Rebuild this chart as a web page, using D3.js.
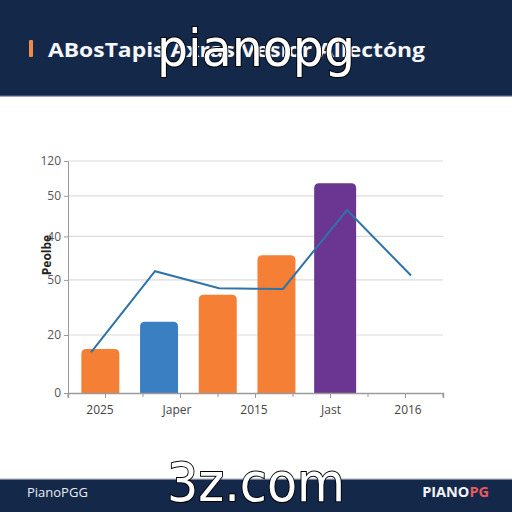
<!DOCTYPE html>
<html>
<head>
<meta charset="utf-8">
<script src="https://cdn.jsdelivr.net/npm/d3@7"></script>
<style>
  html, body { margin: 0; padding: 0; background: #fff; }
  svg { display: block; }
</style>
</head>
<body>
<svg id="chart" width="512" height="512"></svg>
<script>
// ---- data ----
const title = "ABosTapis Axras Vesior Allectóng";
const yAxisTitle = "Peolbe";
const xLabels = ["2025", "Japer", "2015", "Jast", "2016"];
const yTickValues = [0, 20, 39, 54, 68, 80];
const yTickLabels = ["0", "20", "50", "40", "50", "120"];
const barNames = ["b1", "b2", "b3", "b4", "b5"];
const barValues = [15.2, 24.6, 33.9, 47.5, 72.3];
const barGroups = ["orange", "blue", "orange", "orange", "purple"];
const lineValues = [14.0, 42.0, 36.1, 35.9, 63.1, 40.5];
const footerLeft = "PianoPGG";
const footerRightA = "PIANO";
const footerRightB = "PG";
const watermarkTop = "pianopg";
const watermarkBottom = "3z.com";

// ---- layout ----
const svg = d3.select("#chart");
const W = 512, H = 512;
const plot = { left: 68, right: 443, top: 161, bottom: 393 };

// header / footer bands
svg.append("rect").attr("x", 0).attr("y", 0).attr("width", W).attr("height", 95).attr("fill", "#14284a");
svg.append("rect").attr("x", 0).attr("y", 95).attr("width", W).attr("height", 1.5).attr("fill", "#3c5070");
svg.append("rect").attr("x", 0).attr("y", 479).attr("width", W).attr("height", 33).attr("fill", "#14284a");
svg.append("rect").attr("x", 0).attr("y", 478).attr("width", W).attr("height", 1.5).attr("fill", "#cfd6de");

// title
svg.append("rect").attr("x", 29).attr("y", 40).attr("width", 4).attr("height", 17).attr("rx", 1).attr("fill", "#f08a4b");
svg.append("text").attr("x", 48).attr("y", 57)
  .attr("font-family", "Open Sans, sans-serif").attr("font-weight", 700).attr("font-size", 19)
  .attr("fill", "#f4f6fa").attr("textLength", 377).attr("lengthAdjust", "spacingAndGlyphs")
  .text(title);

// scales
const y = d3.scaleLinear().domain([0, 80]).range([plot.bottom, plot.top]);
const xAxisScale = d3.scaleBand().domain(xLabels).range([plot.left, plot.right]);
const xLabelPos = d3.scalePoint().domain(xLabels).range([100, 408]);
const xBar = d3.scaleBand().domain(barNames).range([71, 364.5]).paddingInner(0.353).paddingOuter(0.1765);
const xLine = d3.scalePoint().domain(d3.range(lineValues.length)).range([91, 411]);
const color = d3.scaleOrdinal().domain(["orange", "blue", "purple"]).range(["#f57f35", "#3a7fc2", "#6b3592"]);

// gridlines
svg.append("g").selectAll("line").data(yTickValues.slice(1)).join("line")
  .attr("x1", plot.left).attr("x2", plot.right)
  .attr("y1", d => y(d)).attr("y2", d => y(d))
  .attr("stroke", "#dcdcdc").attr("stroke-width", 1.2);

// y axis
const yAxis = d3.axisLeft(y).tickValues(yTickValues).tickSize(4).tickPadding(3)
  .tickFormat((d, i) => yTickLabels[i]);
const gy = svg.append("g").attr("transform", `translate(${plot.left},0)`).call(yAxis);
gy.select(".domain").attr("stroke", "#9a9a9a");
gy.selectAll(".tick line").attr("stroke", "#9a9a9a");
gy.selectAll(".tick text").attr("font-family", "Open Sans, sans-serif").attr("font-size", 12).attr("fill", "#555");

// y axis title
svg.append("text").attr("transform", "translate(51,255) rotate(-90)")
  .attr("text-anchor", "middle").attr("font-family", "Open Sans, sans-serif")
  .attr("font-weight", 700).attr("font-size", 12).attr("fill", "#222").text(yAxisTitle);

// bars (rounded top)
function topRounded(x, yTop, w, h, r) {
  r = Math.min(r, w / 2, h);
  return `M${x},${yTop + h}V${yTop + r}Q${x},${yTop} ${x + r},${yTop}H${x + w - r}Q${x + w},${yTop} ${x + w},${yTop + r}V${yTop + h}Z`;
}
svg.append("g").selectAll("path").data(barValues).join("path")
  .attr("d", (d, i) => {
    const extra = barGroups[i] === "purple" ? 2 : 0;
    const x0 = xBar(barNames[i]) - extra;
    const w = xBar.bandwidth() + 2 * extra;
    return topRounded(x0, y(d), w, y(0) - y(d), 5);
  })
  .attr("fill", (d, i) => color(barGroups[i]));

// x axis
const xAxis = d3.axisBottom(xAxisScale).tickSize(5).tickFormat("");
const gx = svg.append("g").attr("transform", `translate(0,${plot.bottom})`).call(xAxis);
gx.select(".domain").attr("stroke", "#9a9a9a").attr("stroke-width", 1.5);
gx.selectAll(".tick line").attr("stroke", "#9a9a9a");
svg.append("g").selectAll("line.edge").data(xLabels.concat(["end"])).join("line")
  .attr("x1", (d, i) => plot.left + i * xAxisScale.step())
  .attr("x2", (d, i) => plot.left + i * xAxisScale.step())
  .attr("y1", plot.bottom).attr("y2", plot.bottom + 4).attr("stroke", "#9a9a9a");
svg.append("g").selectAll("text").data(xLabels).join("text")
  .attr("x", d => xLabelPos(d)).attr("y", 414).attr("text-anchor", "middle")
  .attr("font-family", "Open Sans, sans-serif").attr("font-size", 12).attr("fill", "#444")
  .text(d => d);

// line
const line = d3.line().x((d, i) => xLine(i)).y(d => y(d));
svg.append("path").datum(lineValues).attr("d", line)
  .attr("fill", "none").attr("stroke", "#2f73a8").attr("stroke-width", 2).attr("stroke-linejoin", "miter");

// footer
svg.append("text").attr("x", 27).attr("y", 497).attr("font-family", "Open Sans, sans-serif")
  .attr("font-size", 13).attr("fill", "#e8ecf2").text(footerLeft);
const fr = svg.append("text").attr("x", 489).attr("y", 497).attr("text-anchor", "end")
  .attr("font-family", "Open Sans, sans-serif").attr("font-weight", 700).attr("font-size", 14.5);
fr.append("tspan").attr("fill", "#f2f4f8").text(footerRightA);
fr.append("tspan").attr("fill", "#e65a5f").text(footerRightB);

// watermarks
svg.append("text").attr("x", 256).attr("y", 66).attr("text-anchor", "middle")
  .attr("font-family", "DejaVu Sans, sans-serif").attr("font-size", 52)
  .attr("textLength", 198).attr("lengthAdjust", "spacingAndGlyphs")
  .attr("fill", "#fff").attr("stroke", "#000").attr("stroke-width", 2).attr("paint-order", "stroke")
  .text(watermarkTop);
svg.append("text").attr("x", 256).attr("y", 501).attr("text-anchor", "middle")
  .attr("font-family", "DejaVu Sans, sans-serif").attr("font-size", 54)
  .attr("textLength", 178).attr("lengthAdjust", "spacingAndGlyphs")
  .attr("fill", "#fff").attr("stroke", "#000").attr("stroke-width", 2).attr("paint-order", "stroke")
  .text(watermarkBottom);
</script>
</body>
</html>
